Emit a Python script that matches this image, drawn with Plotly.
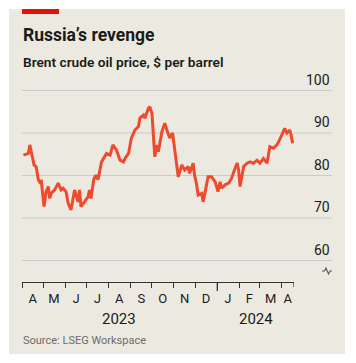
import plotly.graph_objects as go
from datetime import date

# ---------------- data ----------------
DATES = [
    "2023-04-03", "2023-04-10", "2023-04-12", "2023-04-14", "2023-04-18", "2023-04-21",
    "2023-04-24", "2023-04-27", "2023-04-28", "2023-05-02", "2023-05-05", "2023-05-08",
    "2023-05-10", "2023-05-12", "2023-05-17", "2023-05-22", "2023-05-26", "2023-05-29",
    "2023-06-02", "2023-06-05", "2023-06-09", "2023-06-14", "2023-06-19", "2023-06-21",
    "2023-06-23", "2023-06-28", "2023-07-03", "2023-07-05", "2023-07-07", "2023-07-11",
    "2023-07-14", "2023-07-17", "2023-07-22", "2023-07-29", "2023-08-03", "2023-08-07",
    "2023-08-12", "2023-08-17", "2023-08-22", "2023-08-24", "2023-08-29", "2023-09-02",
    "2023-09-07", "2023-09-12", "2023-09-14", "2023-09-19", "2023-09-21", "2023-09-26",
    "2023-09-28", "2023-10-01", "2023-10-03", "2023-10-05", "2023-10-08", "2023-10-10",
    "2023-10-15", "2023-10-19", "2023-10-22", "2023-10-26", "2023-10-30", "2023-11-02",
    "2023-11-05", "2023-11-07", "2023-11-12", "2023-11-16", "2023-11-21", "2023-11-23",
    "2023-11-28", "2023-11-30", "2023-12-03", "2023-12-05", "2023-12-10", "2023-12-12",
    "2023-12-15", "2023-12-19", "2023-12-24", "2023-12-29", "2024-01-02", "2024-01-05",
    "2024-01-07", "2024-01-12", "2024-01-17", "2024-01-21", "2024-01-26", "2024-01-29",
    "2024-01-31", "2024-02-02", "2024-02-05", "2024-02-07", "2024-02-12", "2024-02-16",
    "2024-02-21", "2024-02-26", "2024-03-01", "2024-03-06", "2024-03-11", "2024-03-15",
    "2024-03-20", "2024-03-25", "2024-03-29", "2024-04-03", "2024-04-05", "2024-04-08",
    "2024-04-10", "2024-04-12", "2024-04-14", "2024-04-16",
]
PRICES = [
    84.8, 85.2, 87.2, 85.8, 82.5, 82.0,
    79.0, 78.2, 79.0, 72.7, 76.2, 77.4,
    74.6, 75.8, 76.6, 78.2, 76.6, 77.0,
    76.2, 73.5, 71.9, 76.6, 73.8, 76.6,
    72.7, 73.8, 75.0, 76.6, 74.6, 79.0,
    80.1, 79.0, 83.2, 85.2, 84.8, 87.2,
    86.0, 83.6, 83.2, 84.0, 85.2, 88.8,
    90.7, 91.5, 93.5, 94.2, 93.5, 95.8,
    96.2, 94.6, 90.3, 84.4, 87.2, 85.6,
    90.3, 92.3, 90.7, 88.8, 90.0, 86.0,
    82.9, 79.7, 82.5, 81.3, 82.1, 80.5,
    82.9, 80.1, 77.8, 75.4, 75.8, 73.8,
    76.2, 79.7, 79.7, 78.5, 76.2, 78.5,
    77.0, 77.8, 78.2, 79.3, 81.7, 82.9,
    81.3, 77.4, 80.1, 82.1, 82.9, 83.2,
    82.9, 83.6, 82.9, 84.0, 82.9, 86.8,
    86.4, 87.2, 88.5, 90.5, 91.1, 90.0,
    90.3, 90.7, 89.5, 87.6,
]
Y_TICKS = [60, 70, 80, 90, 100]
MONTH_STARTS = [
    "2023-04-01", "2023-05-01", "2023-06-01", "2023-07-01", "2023-08-01", "2023-09-01",
    "2023-10-01", "2023-11-01", "2023-12-01", "2024-01-01", "2024-02-01", "2024-03-01",
    "2024-04-01",
]
MONTH_LABELS = ["A", "M", "J", "J", "A", "S", "O", "N", "D", "J", "F", "M", "A"]
YEAR_LABELS = ["2023", "2024"]
YEAR_STARTS = ["2023-04-01", "2024-01-01"]

TITLE = "Russia\u2019s revenge"
SUBTITLE = "Brent crude oil price, $ per barrel"
SOURCE = "Source: LSEG Workspace"

# ---------------- style / layout ----------------
OFF = 8  # page body margin
W, H = 356 - OFF, 363 - OFF
ML, MT = 22 - OFF, 86 - OFF
PW, PH = 272, 196
MR, MB = W - ML - PW, H - MT - PH
X_RANGE = ["2023-04-01", "2024-04-18"]
Y_RANGE = [54.94, 101.06]
BG = "#ECEAE0"
GRID = "#C8CBCC"
LINE_RED = "#EF4A2E"
TXT = "#1A1A1A"
AXIS = "#333333"
FONT = "Roboto"


def px(xp):  # reference-pixel x -> paper
    return (xp - OFF - ML) / PW


def py(yp):  # reference-pixel y -> paper
    return (MT + PH - (yp - OFF)) / PH


def d(s):
    return date.fromisoformat(s)


def mid(a, b):
    return a + (b - a) / 2


x_end = d(X_RANGE[1])
bounds = [d(s) for s in MONTH_STARTS] + [x_end]
label_pos = [mid(bounds[i], min(bounds[i + 1], x_end)).isoformat() for i in range(len(MONTH_STARTS))]
year_bounds = [d(s) for s in YEAR_STARTS] + [x_end]
year_pos = [mid(year_bounds[i], year_bounds[i + 1]).isoformat() for i in range(len(YEAR_LABELS))]

fig = go.Figure()
fig.add_trace(go.Scatter(
    x=DATES, y=PRICES, mode="lines",
    line=dict(color=LINE_RED, width=3), hoverinfo="skip", showlegend=False,
))

shapes = []
shapes.append(dict(type="rect", xref="paper", yref="paper", x0=px(9), x1=px(345), y0=py(354), y1=py(9),
                   fillcolor=BG, line=dict(width=0), layer="below"))
shapes.append(dict(type="rect", xref="paper", yref="paper", x0=px(22), x1=px(59), y0=py(14), y1=py(9),
                   fillcolor="#E3120B", line=dict(width=0), layer="below"))
for v in Y_TICKS:
    shapes.append(dict(type="line", xref="paper", yref="y", x0=0, x1=px(332), y0=v, y1=v,
                       line=dict(color=GRID, width=1), layer="below"))
shapes.append(dict(type="line", xref="x", yref="paper", x0=YEAR_STARTS[1], x1=YEAR_STARTS[1],
                   y0=0, y1=-9 / PH, line=dict(color=AXIS, width=1.3)))
shapes.append(dict(type="line", xref="x", yref="paper", x0=X_RANGE[1], x1=X_RANGE[1],
                   y0=0, y1=-5 / PH, line=dict(color=AXIS, width=1.3)))
pts = [(322, 271), (324.5, 271), (326, 268), (328.5, 274), (330, 271), (332, 271)]
path = "M " + " L ".join(f"{px(a):.5f},{py(b):.5f}" for a, b in pts)
shapes.append(dict(type="path", xref="paper", yref="paper", path=path,
                   line=dict(color="#555555", width=1.1)))

annotations = []
for v in Y_TICKS:
    annotations.append(dict(xref="paper", yref="y", x=px(332), y=v, text=str(v), showarrow=False,
                            xanchor="right", yanchor="bottom", yshift=1,
                            font=dict(family=FONT, size=14, color=TXT)))
for lab, pos in zip(YEAR_LABELS, year_pos):
    annotations.append(dict(xref="x", yref="paper", x=pos, y=py(318.5), text=lab, showarrow=False,
                            xanchor="center", yanchor="middle",
                            font=dict(family=FONT, size=15, color=TXT)))
annotations.append(dict(xref="paper", yref="paper", x=px(21), y=py(34.5), text=f"<b>{TITLE}</b>",
                        showarrow=False, xanchor="left", yanchor="middle",
                        font=dict(family=FONT, size=17.5, color=TXT)))
annotations.append(dict(xref="paper", yref="paper", x=px(21), y=py(62), text=SUBTITLE,
                        showarrow=False, xanchor="left", yanchor="middle",
                        font=dict(family=FONT, size=13.7, color=TXT, weight=600)))
annotations.append(dict(xref="paper", yref="paper", x=px(21), y=py(340), text=SOURCE,
                        showarrow=False, xanchor="left", yanchor="middle",
                        font=dict(family=FONT, size=11, color="#6B6B6B")))

fig.update_layout(
    width=W, height=H,
    margin=dict(l=ML, r=MR, t=MT, b=MB, pad=0),
    paper_bgcolor="white", plot_bgcolor="rgba(0,0,0,0)",
    shapes=shapes, annotations=annotations, showlegend=False,
    xaxis=dict(
        type="date", range=X_RANGE, showgrid=False, zeroline=False,
        showline=True, linecolor=AXIS, linewidth=1.3,
        tickvals=label_pos, ticktext=MONTH_LABELS, ticks="",
        tickfont=dict(family=FONT, size=13, color=TXT),
        ticklabelstandoff=4,
        minor=dict(ticks="outside", ticklen=5, tickwidth=1.3, tickcolor=AXIS,
                   dtick="M1", tick0=MONTH_STARTS[0], showgrid=False),
        fixedrange=True,
    ),
    yaxis=dict(range=Y_RANGE, visible=False, fixedrange=True),
)

fig.write_html("out.html")
